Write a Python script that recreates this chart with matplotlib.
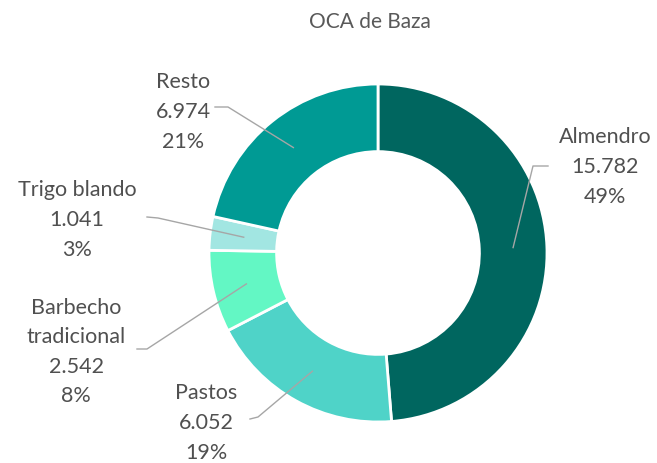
import numpy as np
import matplotlib.pyplot as plt

plt.rcParams['font.family'] = ['Lato', 'DejaVu Sans']

cultivos = ["Almendro", "Pastos", "Barbecho\ntradicional", "Trigo blando", "Resto"]
superficie = [15782, 6052, 2542, 1041, 6974]
etiquetas_valor = ["15.782", "6.052", "2.542", "1.041", "6.974"]
porcentajes = ["49%", "19%", "8%", "3%", "21%"]
colores = ["#00665f", "#4fd3c8", "#63f7c4", "#a2e6e2", "#009a94"]

W, H = 657, 464
cx, cy, R = 378, 254, 169


def px(x, y):
    # pixel (from top-left) -> data coords of the pie axes
    return (x - cx) / R, (cy - y) / R


fig = plt.figure(figsize=(W / 100, H / 100), dpi=100)
ax = fig.add_axes([(cx - R) / W, (H - cy - R) / H, 2 * R / W, 2 * R / H])

wedges, _ = ax.pie(superficie, colors=colores, startangle=90, counterclock=False,
                   radius=1, wedgeprops=dict(width=0.4, edgecolor="white", linewidth=2))
ax.set_xlim(-1, 1)
ax.set_ylim(-1, 1)
ax.set_aspect("equal")
ax.axis("off")

# text block centres and leader elbows/ends (pixels)
texto_pos = [(605, 167), (206, 423), (76, 352), (77, 220), (183, 112)]
codos = [[(533, 167), (548, 167)],
         [(258, 418), (250, 420)],
         [(147, 350), (137, 350)],
         [(158, 219), (147, 218)],
         [(228, 108), (215, 108)]]

gris = "#505050"
for w, nombre, val, pct, tp, cd in zip(wedges, cultivos, etiquetas_valor, porcentajes, texto_pos, codos):
    ang = np.deg2rad((w.theta1 + w.theta2) / 2)
    x0, y0 = 0.8 * np.cos(ang), 0.8 * np.sin(ang)
    xs = [x0] + [px(*p)[0] for p in cd]
    ys = [y0] + [px(*p)[1] for p in cd]
    ax.plot(xs, ys, color="#a6a6a6", lw=1, clip_on=False)
    tx, ty = px(*tp)
    ax.text(tx, ty, f"{nombre}\n{val}\n{pct}", ha="center", va="center",
            multialignment="center", fontsize=15.5, color=gris, linespacing=1.6)

fig.text(370 / W, 1 - 22 / H, "OCA de Baza", ha="center", va="center",
         fontsize=15, color="#595959")

fig.savefig("out.png", dpi=100)
